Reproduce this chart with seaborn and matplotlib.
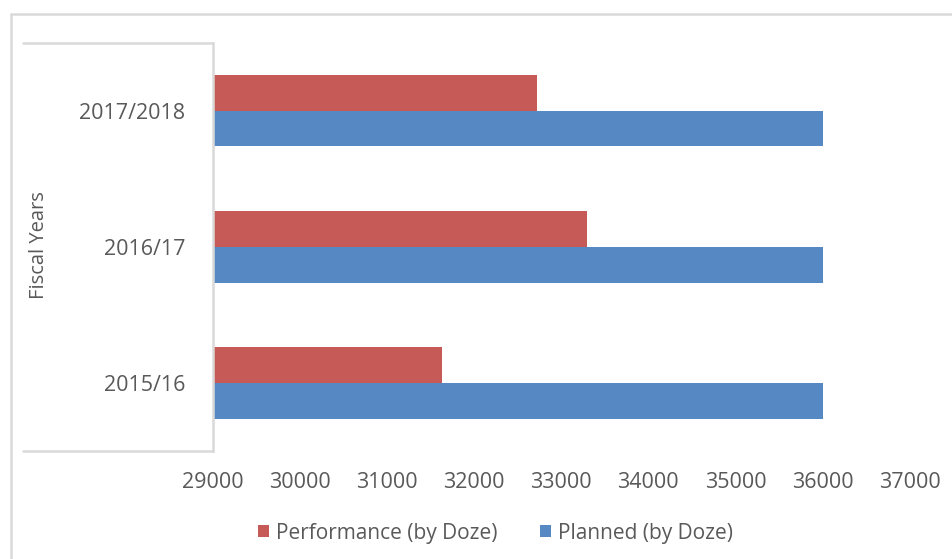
import matplotlib
matplotlib.use("Agg")
import matplotlib.pyplot as plt
from matplotlib.lines import Line2D
from matplotlib.patches import Rectangle
import pandas as pd
import seaborn as sns

# Fiscal years, top to bottom
years = ["2017/2018", "2016/17", "2015/16"]
performance = [32720, 33290, 31630]
planned = [36000, 36000, 36000]
series_names = ["Performance (by Doze)", "Planned (by Doze)"]
x_ticks = [29000, 30000, 31000, 32000, 33000, 34000, 35000, 36000, 37000]

df = pd.DataFrame({
    "year": years * 2,
    "value": performance + planned,
    "series": [series_names[0]] * len(years) + [series_names[1]] * len(years),
})

sns.set_theme(style="white")
plt.rcParams["font.family"] = ["Open Sans", "DejaVu Sans"]
text_color = "#595959"
line_color = "#d9d9d9"

W, H = 952, 559
fig = plt.figure(figsize=(W / 100, H / 100), dpi=100)
left_px, right_px, top_px, bottom_px = 213, 909.6, 42.5, 451
ax = fig.add_axes([left_px / W, 1 - bottom_px / H,
                   (right_px - left_px) / W, (bottom_px - top_px) / H])

sns.barplot(data=df, y="year", x="value", hue="series", order=years,
            hue_order=series_names, palette=["#C55A56", "#5689C3"],
            orient="h", width=0.527, gap=0, saturation=1, ax=ax,
            edgecolor="none", legend=True)

ax.set_xlim(29000, 37000)
ax.set_ylim(2.5, -0.5)
ax.set_xticks(x_ticks)
ax.set_xticklabels([str(t) for t in x_ticks])
ax.tick_params(axis="x", length=0, pad=15, labelsize=15.5, labelcolor=text_color)
ax.tick_params(axis="y", length=0, pad=20, labelsize=15.5, labelcolor=text_color)
ax.set_xlabel("")
ax.set_ylabel("")

for side in ["top", "right", "bottom"]:
    ax.spines[side].set_visible(False)
ax.spines["left"].set_color(line_color)
ax.spines["left"].set_linewidth(1.8)

# Frame around the category label area
for y in (top_px, bottom_px):
    fig.add_artist(Line2D([23 / W, left_px / W], [1 - y / H, 1 - y / H],
                          color=line_color, lw=1.8, transform=fig.transFigure))

# Outer chart border
fig.add_artist(Rectangle((10.5 / W, -0.1), 1.2, 1 - 14 / H + 0.1,
                         transform=fig.transFigure, fill=False,
                         edgecolor=line_color, lw=1.8))

fig.text(39.5 / W, 1 - 245 / H, "Fiscal Years", rotation=90, ha="center",
         va="center", fontsize=14.5, color=text_color)

handles, labels = ax.get_legend_handles_labels()
ax.get_legend().remove()
fig.legend(handles, labels, loc="center", bbox_to_anchor=(495.5 / W, 1 - 533 / H),
           ncol=2, frameon=False, fontsize=15, labelcolor=text_color,
           handlelength=0.55, handleheight=0.55, handletextpad=0.35,
           columnspacing=2.0)

fig.savefig("out.png", dpi=100, facecolor="white")
